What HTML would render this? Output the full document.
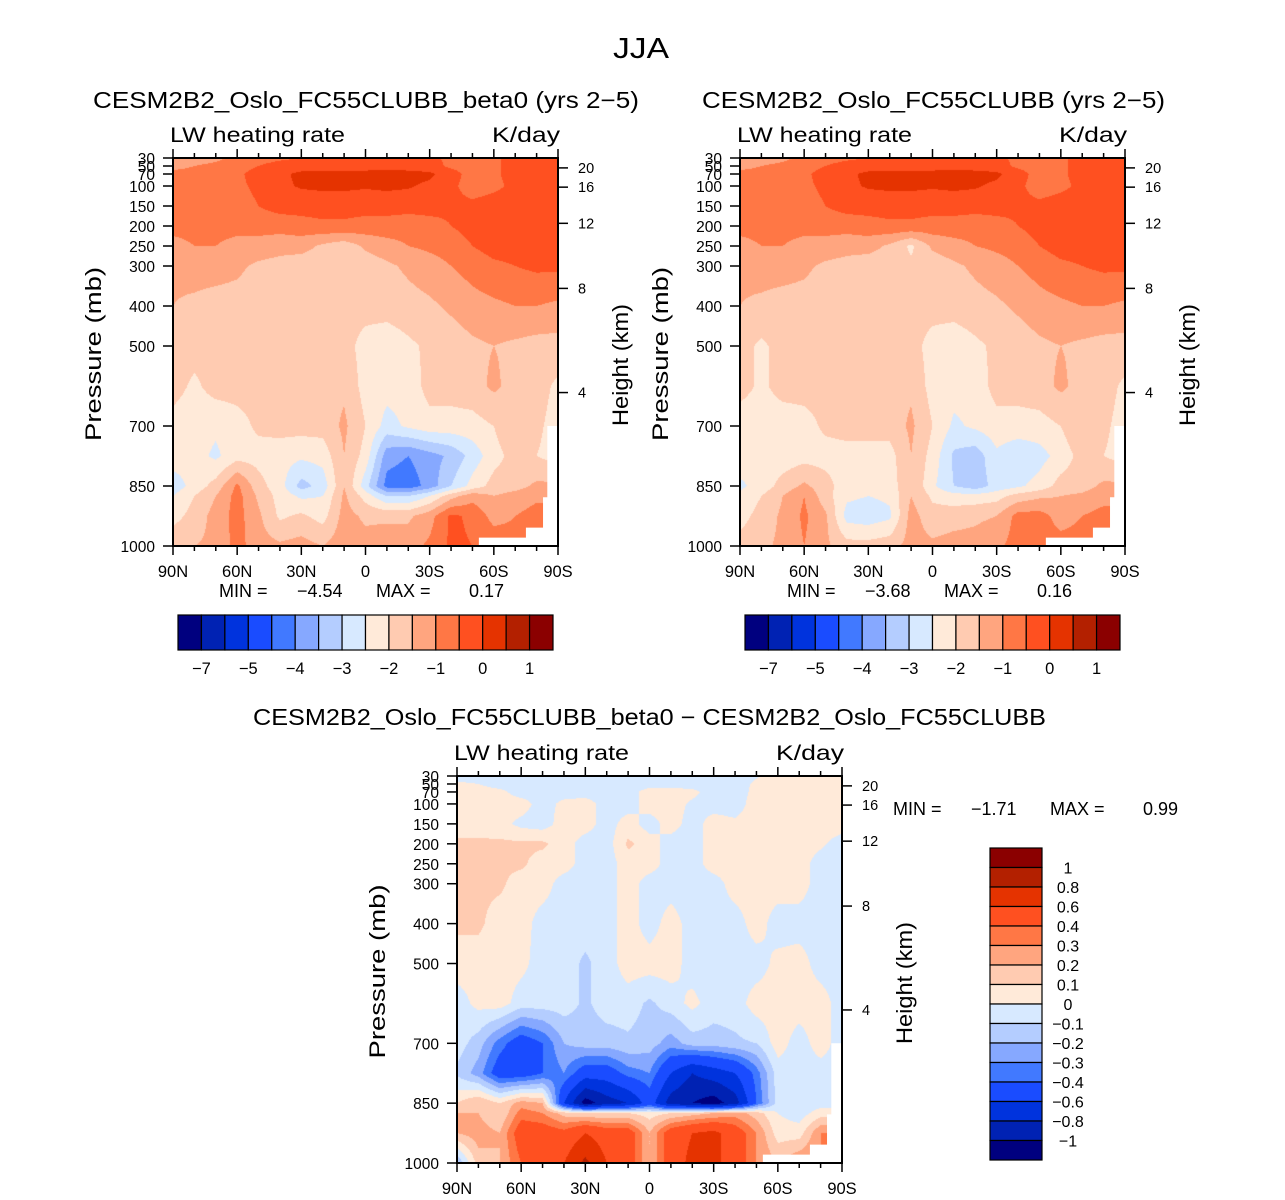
<!DOCTYPE html>
<html><head><meta charset="utf-8"><style>
html,body{margin:0;padding:0;background:#fff;}
#wrap{position:relative;width:1285px;height:1200px;overflow:hidden;font-family:"Liberation Sans",sans-serif;}
canvas{position:absolute;}
svg{position:absolute;left:0;top:0;}
</style></head><body>
<div id="wrap">
<canvas id="cL"></canvas>
<canvas id="cR"></canvas>
<canvas id="cB"></canvas>
<svg id="s" width="1285" height="1200"></svg>
</div>
<script>
// ---- data ----
const lats = [90,80,70,60,50,40,30,20,10,0,-10,-20,-30,-40,-50,-60,-70,-80,-90];
const plevs = [30,50,70,100,150,200,250,300,400,500,600,700,775,850,875,925,1000];
const leftVals = [
[-1.2,-1.2,-1.1,-0.9,-0.7,-0.6,-0.5,-0.4,-0.4,-0.4,-0.4,-0.4,-0.4,-0.6,-0.7,-0.6,-0.3,-0.3,-0.3],
[-1.1,-1.0,-0.9,-0.7,-0.5,-0.3,-0.2,-0.2,-0.2,-0.2,-0.2,-0.2,-0.3,-0.6,-0.7,-0.6,-0.3,-0.2,-0.2],
[-0.9,-0.9,-0.8,-0.6,-0.3,-0.1,0.1,0.15,0.15,0.15,0.2,0.15,0.1,-0.3,-0.7,-0.6,-0.3,-0.2,-0.2],
[-0.9,-0.9,-0.8,-0.6,-0.4,-0.1,0.05,0.1,0.1,0.05,0.1,0.05,-0.1,-0.4,-0.7,-0.6,-0.4,-0.3,-0.3],
[-0.9,-0.9,-0.8,-0.7,-0.5,-0.3,-0.3,-0.3,-0.3,-0.3,-0.3,-0.3,-0.3,-0.4,-0.4,-0.3,-0.3,-0.3,-0.3],
[-0.9,-0.9,-0.9,-0.9,-0.8,-0.8,-0.7,-0.6,-0.6,-0.7,-0.7,-0.8,-0.7,-0.5,-0.3,-0.2,-0.2,-0.2,-0.2],
[-1.1,-1.0,-1.0,-1.1,-1.2,-1.3,-1.3,-1.6,-1.8,-1.4,-1.2,-1.0,-0.9,-0.8,-0.5,-0.3,-0.3,-0.3,-0.3],
[-1.4,-1.3,-1.3,-1.4,-1.6,-1.7,-1.8,-1.8,-1.9,-1.8,-1.6,-1.4,-1.2,-1.0,-0.8,-0.6,-0.5,-0.4,-0.4],
[-1.5,-1.6,-1.7,-1.7,-1.8,-1.9,-1.9,-1.8,-1.8,-1.8,-1.8,-1.7,-1.6,-1.4,-1.2,-1.1,-1.0,-1.0,-1.1],
[-1.7,-1.8,-1.8,-1.8,-1.8,-1.9,-1.9,-1.9,-1.8,-2.2,-2.3,-2.1,-1.9,-1.8,-1.6,-1.5,-1.6,-1.7,-1.7],
[-1.8,-2.1,-1.8,-1.8,-1.8,-1.8,-1.8,-1.7,-1.6,-2.2,-2.3,-2.3,-1.8,-1.8,-1.7,-1.4,-1.7,-1.8,-2.1],
[-2.2,-2.3,-2.4,-2.2,-1.9,-1.8,-1.8,-1.8,-1.4,-2.0,-2.7,-2.4,-2.2,-2.2,-2.2,-2.0,-1.5,-1.9,-2.2],
[-2.2,-2.3,-2.6,-2.2,-2.2,-2.3,-2.4,-2.3,-1.5,-2.2,-3.8,-4.0,-3.7,-3.4,-2.8,-2.2,-1.8,-2.0,-2.2],
[-2.8,-2.3,-1.8,-0.9,-1.8,-2.3,-3.2,-2.8,-1.5,-2.8,-4.2,-4.3,-3.8,-3.0,-2.3,-1.8,-1.7,-1.4,-1.4],
[-2.5,-2.0,-1.5,-0.8,-1.6,-2.2,-2.6,-2.5,-1.4,-2.2,-3.0,-3.0,-2.5,-1.7,-1.2,-1.5,-1.3,-1.1,-1.1],
[-2.2,-1.8,-1.3,-0.8,-1.4,-2.1,-1.9,-2.2,-1.3,-1.6,-1.6,-1.6,-1.2,-0.4,-0.6,-1.2,-1.0,-0.8,-0.8],
[-1.6,-1.5,-1.4,-0.8,-1.3,-1.4,-1.3,-1.5,-1.2,-1.3,-1.2,-1.2,-0.9,-0.4,-0.5,-0.6,-0.8,-0.8,-0.8]
];
const rightVals = [
[-1.2,-1.2,-1.1,-0.9,-0.7,-0.6,-0.5,-0.4,-0.4,-0.4,-0.4,-0.4,-0.4,-0.6,-0.7,-0.6,-0.3,-0.3,-0.3],
[-1.1,-1.0,-0.9,-0.7,-0.5,-0.3,-0.2,-0.2,-0.2,-0.2,-0.2,-0.2,-0.3,-0.6,-0.7,-0.6,-0.3,-0.2,-0.2],
[-0.9,-0.9,-0.8,-0.6,-0.3,-0.1,0.1,0.15,0.15,0.15,0.2,0.15,0.1,-0.3,-0.7,-0.6,-0.3,-0.2,-0.2],
[-0.9,-0.9,-0.8,-0.6,-0.4,-0.1,0.05,0.1,0.1,0.05,0.1,0.05,-0.1,-0.4,-0.7,-0.6,-0.4,-0.3,-0.3],
[-0.9,-0.9,-0.8,-0.7,-0.5,-0.3,-0.3,-0.3,-0.3,-0.3,-0.3,-0.3,-0.3,-0.4,-0.4,-0.3,-0.3,-0.3,-0.3],
[-0.9,-0.9,-0.9,-0.9,-0.8,-0.8,-0.7,-0.6,-0.6,-0.7,-0.7,-0.8,-0.7,-0.5,-0.3,-0.2,-0.2,-0.2,-0.2],
[-1.1,-1.0,-1.0,-1.1,-1.2,-1.3,-1.3,-1.6,-2.1,-1.4,-1.2,-1.0,-0.9,-0.8,-0.5,-0.3,-0.3,-0.3,-0.3],
[-1.4,-1.3,-1.3,-1.4,-1.6,-1.7,-1.8,-1.8,-1.9,-1.8,-1.6,-1.4,-1.2,-1.0,-0.8,-0.6,-0.5,-0.4,-0.4],
[-1.5,-1.6,-1.7,-1.7,-1.8,-1.9,-2.0,-1.8,-1.8,-1.8,-1.8,-1.7,-1.6,-1.4,-1.2,-1.1,-1.0,-1.0,-1.1],
[-1.8,-2.1,-1.8,-1.8,-1.8,-1.9,-1.9,-1.9,-1.8,-2.2,-2.3,-2.1,-1.9,-1.8,-1.6,-1.5,-1.6,-1.7,-1.7],
[-1.8,-2.1,-1.8,-1.8,-1.8,-1.8,-1.8,-1.7,-1.6,-2.2,-2.3,-2.3,-1.8,-1.8,-1.7,-1.4,-1.7,-1.8,-2.1],
[-2.3,-2.3,-2.3,-2.2,-1.9,-1.8,-1.8,-1.8,-1.4,-2.0,-2.6,-2.4,-2.2,-2.2,-2.2,-2.0,-1.5,-1.9,-2.2],
[-2.2,-2.3,-2.3,-2.2,-2.2,-2.2,-2.2,-2.2,-1.5,-2.2,-3.1,-3.3,-2.6,-2.9,-2.7,-2.3,-1.8,-2.0,-2.2],
[-2.6,-2.3,-1.8,-1.4,-1.8,-2.3,-2.3,-2.3,-1.5,-2.4,-3.0,-3.3,-2.8,-2.6,-2.3,-1.8,-1.7,-1.4,-1.4],
[-2.4,-2.0,-1.5,-1.0,-1.8,-2.4,-2.5,-2.4,-1.5,-2.1,-2.3,-2.3,-2.2,-1.8,-1.6,-1.5,-1.4,-1.2,-1.2],
[-2.2,-1.8,-1.4,-0.9,-1.4,-2.7,-2.8,-2.6,-1.3,-1.8,-1.7,-1.6,-1.5,-0.8,-0.8,-1.2,-1.0,-0.8,-0.8],
[-1.8,-1.6,-1.4,-1.0,-1.4,-1.8,-1.8,-1.7,-1.3,-1.4,-1.3,-1.3,-1.1,-0.8,-0.8,-0.8,-0.8,-0.8,-0.8]
];
const diffVals = [
[-0.05,-0.05,-0.05,-0.05,-0.05,-0.05,-0.05,-0.05,-0.05,-0.05,-0.05,-0.05,-0.05,-0.05,-0.01,0.05,0.05,0.05,0.05],
[0.02,0.0,-0.05,-0.05,-0.05,-0.05,-0.05,-0.05,-0.05,-0.05,-0.05,-0.05,-0.05,-0.05,0.02,0.05,0.05,0.05,0.05],
[0.05,0.05,0.03,-0.05,-0.05,-0.05,-0.05,-0.05,-0.05,0.05,0.05,0.03,-0.05,-0.05,0.03,0.05,0.05,0.05,0.05],
[0.05,0.05,0.05,0.05,-0.05,0.03,0.05,-0.05,-0.05,0.05,0.05,-0.02,-0.05,-0.05,0.05,0.05,0.05,0.05,0.05],
[0.05,0.05,0.04,-0.03,-0.05,0.05,0.05,-0.05,0.05,-0.05,0.05,-0.05,0.05,0.02,0.05,0.05,0.05,0.05,0.05],
[0.12,0.12,0.12,0.12,0.12,0.05,-0.05,-0.05,0.12,0.05,-0.05,-0.05,0.05,0.05,0.05,0.05,0.05,0.02,-0.05],
[0.12,0.12,0.12,0.12,0.05,0.05,-0.05,-0.05,0.05,0.05,-0.05,-0.05,0.05,0.05,0.05,0.05,0.05,-0.05,-0.05],
[0.12,0.12,0.12,0.05,0.05,-0.05,-0.05,-0.05,0.05,-0.05,-0.05,-0.05,-0.05,0.05,0.05,0.05,0.05,-0.05,-0.05],
[0.12,0.12,0.05,0.05,-0.05,-0.05,-0.05,-0.05,0.05,-0.05,0.05,-0.05,-0.05,-0.05,0.05,-0.05,-0.05,-0.05,-0.05],
[0.05,0.05,0.05,0.03,-0.05,-0.05,-0.12,-0.05,0.05,0.05,0.05,-0.05,-0.05,-0.05,-0.05,0.03,0.05,-0.05,-0.05],
[-0.05,0.03,0.05,-0.05,-0.05,-0.05,-0.12,-0.05,-0.05,-0.12,-0.05,0.03,-0.05,-0.05,0.05,0.05,0.05,0.05,-0.05],
[-0.05,-0.15,-0.35,-0.5,-0.4,-0.2,-0.15,-0.15,-0.12,-0.15,-0.25,-0.15,-0.15,-0.12,-0.1,0.05,-0.05,0.05,-0.05],
[-0.12,-0.25,-0.5,-0.5,-0.4,-0.3,-0.5,-0.5,-0.35,-0.3,-0.6,-0.8,-0.7,-0.6,-0.35,-0.05,-0.05,-0.05,-0.05],
[0.1,0.2,0.1,0.25,0.2,-0.6,-1.1,-0.9,-0.8,-0.5,-0.9,-1.0,-1.1,-0.9,-0.4,-0.05,-0.05,-0.05,-0.05],
[0.2,0.2,0.1,0.35,0.3,0.15,0.1,0.1,0.1,0.05,0.1,0.15,0.2,0.25,0.15,0.0,-0.05,0.05,0.05],
[0.2,0.25,0.2,0.5,0.5,0.45,0.6,0.5,0.5,0.2,0.5,0.6,0.65,0.5,0.3,0.05,0.05,0.3,0.3],
[-0.2,0.15,0.2,0.4,0.5,0.6,0.85,0.6,0.5,0.2,0.5,0.65,0.65,0.5,0.3,0.2,0.3,0.3,0.3]
];
const levelsAbs = [-7,-6,-5,-4.5,-4,-3.5,-3,-2.5,-2,-1.5,-1,-0.5,0,0.5,1];
const levelsDiff = [-1,-0.8,-0.6,-0.4,-0.3,-0.2,-0.1,0,0.1,0.2,0.3,0.4,0.6,0.8,1];
const absLabels = ["−7","−5","−4","−3","−2","−1","0","1"];
const diffLabels = ["1","0.8","0.6","0.4","0.3","0.2","0.1","0","−0.1","−0.2","−0.3","−0.4","−0.6","−0.8","−1"];
const latTicks = [90,60,30,0,-30,-60,-90];
const latTickLabels = ["90N","60N","30N","0","30S","60S","90S"];
const pTicks = [30,50,70,100,150,200,250,300,400,500,700,850,1000];
const kmTicks = [4,8,12,16,20];
const statsLeft = ["−4.54","0.17"], statsRight = ["−3.68","0.16"], statsDiff = ["−1.71","0.99"];
// ---- style ----
const COLS = ['#00007f','#0022b3','#0033dd','#1a4cff','#4179ff','#86a8ff','#b4cdff','#d7e9ff','#ffead9','#ffcbb1','#ffa57f','#ff7745','#ff5020','#e53300','#b32000','#8b0000'];
const panels = {
  L:{x:173,y:158,w:385,h:388,vals:leftVals,lev:levelsAbs,cv:'cL'},
  R:{x:740,y:158,w:385,h:388,vals:rightVals,lev:levelsAbs,cv:'cR'},
  B:{x:457,y:776,w:385,h:387,vals:diffVals,lev:levelsDiff,cv:'cB'}
};
function xOf(P,lat){return P.x+(90-lat)/180*P.w;}
function yOf(P,p){return P.y+(p-30)/970*P.h;}
function kmToP(z){return z<=11?1013.25*Math.pow(1-0.0065*z*1000/288.15,5.2559):226.32*Math.exp(-(z-11)*1000/6341.6);}
function hexRGB(h){return [parseInt(h.substr(1,2),16),parseInt(h.substr(3,2),16),parseInt(h.substr(5,2),16)];}
const RGB=COLS.map(hexRGB);
function sample(vals,lat,p){
  let fi=(90-lat)/10; let i=Math.min(Math.floor(fi),17); let tx=fi-i;
  let k=0; while(k<plevs.length-2 && p>plevs[k+1]) k++;
  let ty=(p-plevs[k])/(plevs[k+1]-plevs[k]);
  const a=vals[k][i],b=vals[k][i+1],c=vals[k+1][i],d=vals[k+1][i+1];
  return (a*(1-tx)+b*tx)*(1-ty)+(c*(1-tx)+d*tx)*ty;
}
function colorIdx(lev,v){let n=0;for(const l of lev) if(v>=l) n++;return n;}
for(const key in panels){
  const P=panels[key]; const cv=document.getElementById(P.cv);
  cv.width=P.w; cv.height=P.h; cv.style.left=P.x+'px'; cv.style.top=P.y+'px';
  const ctx=cv.getContext('2d'); const img=ctx.createImageData(P.w,P.h);
  for(let py=0;py<P.h;py++){
    const p=30+(py+0.5)/P.h*970;
    for(let px=0;px<P.w;px++){
      const lat=90-(px+0.5)/P.w*180;
      const v=sample(P.vals,lat,p); const c=RGB[colorIdx(P.lev,v)];
      const o=(py*P.w+px)*4; img.data[o]=c[0];img.data[o+1]=c[1];img.data[o+2]=c[2];img.data[o+3]=255;
    }
  }
  ctx.putImageData(img,0,0);
}
// ---- overlay ----
const NS='http://www.w3.org/2000/svg'; const S=document.getElementById('s');
function el(tag,attrs,parent){const e=document.createElementNS(NS,tag);for(const k in attrs)e.setAttribute(k,attrs[k]);(parent||S).appendChild(e);return e;}
function txt(str,x,y,size,opts){opts=opts||{};const a={x:x,y:y,'font-size':size,'font-family':'Liberation Sans, sans-serif',fill:'#000','text-anchor':opts.anchor||'start'};
  if(opts.len){a.textLength=opts.len;a.lengthAdjust='spacingAndGlyphs';}
  if(opts.rot){a.transform='rotate(-90 '+x+' '+y+')';}
  const t=el('text',a); t.textContent=str; return t;}
const mask=[[-85,700],[-90,700],[-90,1000],[-53,1000],[-53,979],[-75,979],[-75,954],[-83,954],[-83,878],[-85,878]];
let t;
t=txt('JJA',641,58,29,{anchor:'middle',len:56});


function drawPanel(P,title,tl,pname){
  const g=el('g',{});
  
  
  const mk=el('polygon',{points:mask.map(q=>xOf(P,q[0])+','+yOf(P,q[1])).join(' '),fill:'#fff'},g);
  
  
  const fr=el('rect',{x:P.x,y:P.y,width:P.w,height:P.h,fill:'none',stroke:'#000','stroke-width':2},g);
  
  
  for(let lat=90;lat>=-90;lat-=10){
    const x=xOf(P,lat); const L=(lat%30===0)?9:5;
    el('line',{x1:x,x2:x,y1:P.y+P.h,y2:P.y+P.h+L,stroke:'#000','stroke-width':1.5},g);
    el('line',{x1:x,x2:x,y1:P.y,y2:P.y-L,stroke:'#000','stroke-width':1.5},g);
  }
  latTicks.forEach((lat,i)=>{const tt=txt(latTickLabels[i],xOf(P,lat),P.y+P.h+31,16.5,{anchor:'middle'});
    
    });
  pTicks.forEach(p=>{const y=yOf(P,p);
    el('line',{x1:P.x-10,x2:P.x,y1:y,y2:y,stroke:'#000','stroke-width':1.5},g);
    const tt=txt(String(p),P.x-18,y+6,15.5,{anchor:'end'});
    
    });
  kmTicks.forEach(z=>{const y=yOf(P,kmToP(z));
    el('line',{x1:P.x+P.w,x2:P.x+P.w+10,y1:y,y2:y,stroke:'#000','stroke-width':1.5},g);
    const tt=txt(String(z),P.x+P.w+20,y+5,14.5,{});
    
    });
  let a=txt('Pressure (mb)',P.x-72,P.y+P.h/2+2,22,{anchor:'middle',rot:true,len:174});
  
  
  a=txt('Height (km)',P.x+P.w+70,P.y+207,22,{anchor:'middle',rot:true,len:122});
  
  
  a=txt(title,tl[0],tl[1],23,{len:tl[2]});
  
  
  a=txt('LW heating rate',P.x-3,P.y-16,21,{len:175});
  
  
  a=txt('K/day',P.x+P.w+2,P.y-16,21,{anchor:'end',len:68});
  
  
}
drawPanel(panels.L,'CESM2B2_Oslo_FC55CLUBB_beta0 (yrs 2−5)',[93,108,546],'left-panel');
drawPanel(panels.R,'CESM2B2_Oslo_FC55CLUBB (yrs 2−5)',[702,108,463],'right-panel');
drawPanel(panels.B,'CESM2B2_Oslo_FC55CLUBB_beta0 − CESM2B2_Oslo_FC55CLUBB',[253,725,793],'difference-panel');
function stats(x,y,s){
  const tt=[txt('MIN  =',x,y,18),txt(s[0],x+78,y,18),txt('MAX  =',x+157,y,18),txt(s[1],x+250,y,18)];
  tt.forEach(q=>{
    });
}
stats(219,597,statsLeft); stats(787,597,statsRight); stats(893,815,statsDiff);
function hbar(x0,y0,w,h){
  const bw=w/16;
  for(let i=0;i<16;i++){const r=el('rect',{x:x0+i*bw,y:y0,width:bw,height:h,fill:COLS[i],stroke:'#000','stroke-width':1.2});
    
    }
  absLabels.forEach((l,j)=>{const tt=txt(l,x0+(1+2*j)*bw,y0+h+24,16.5,{anchor:'middle'});
    
    });
}
hbar(178,615,375,35); hbar(745,615,375,35);
(function(){const x0=990,y0=848,w=52,h=312,bh=h/16;
  for(let i=0;i<16;i++){const r=el('rect',{x:x0,y:y0+i*bh,width:w,height:bh,fill:COLS[15-i],stroke:'#000','stroke-width':1.2});
    
    }
  diffLabels.forEach((l,j)=>{const tt=txt(l,1068,y0+(j+1)*bh+6,16,{anchor:'middle'});
    
    });
})();
</script>
</body></html>
